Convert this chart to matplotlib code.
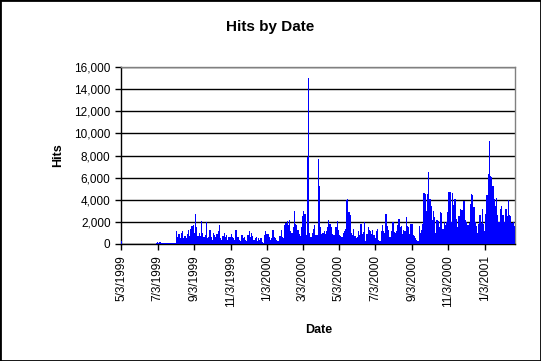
import datetime as dt
import numpy as np
import matplotlib
matplotlib.use("Agg")
import matplotlib.pyplot as plt
import matplotlib.dates as mdates
from matplotlib.patches import Rectangle
from matplotlib.ticker import FuncFormatter, MultipleLocator

plt.rcParams['font.family'] = ['Liberation Sans', 'DejaVu Sans']

# daily hits in 2-day steps (values in hundreds of hits)
start_date = dt.date(1999, 5, 3)
step_days = 2
hits_hundreds = [
    # May - Aug 1999
    2.5, 0, 0, 0, 0, 0, 0, 0, 0, 0, 0, 0, 0, 0, 0, 0, 0, 0, 0, 0,
    0, 0, 0, 0, 0, 0, 0, 0, 0, 1, 2, 1, 2, 1, 1, 1, 1, 1, 1, 1,
    1, 1, 1, 1, 1, 1,
    # Aug - Dec 1999
    12, 6, 9, 5, 10, 12, 5, 7, 5, 9, 13, 7, 14, 16, 17, 10, 27, 15, 7, 10,
    7, 21, 10, 6, 8, 20, 5, 6, 13, 6, 4, 10, 8, 6, 9, 12, 17, 5, 4, 7,
    10, 6, 8, 4, 6, 6, 9, 6, 5, 4, 13, 6, 6, 4, 3, 8, 5, 6, 4, 3,
    8, 12, 6, 10, 7, 4, 5, 6, 3, 5, 4,
    # Jan - Mar 2000
    5, 1.5, 1, 8, 12, 9, 9, 6, 4, 5, 12.5, 6, 5, 4, 3, 3, 7, 13, 6, 5,
    17, 19, 21, 17, 22, 12, 10, 15, 30, 18, 17, 13, 9, 7, 15, 25, 30,
    27, 8, 79, 150, 10, 6, 10,
    # Mar - May 2000
    14, 17, 8, 8, 77, 52, 15, 9, 10, 12, 9, 12, 15, 22, 18, 15, 9, 8, 8, 15,
    21, 13, 8, 7, 6, 10, 12, 14, 40, 41, 29, 26,
    # May - Sep 2000
    10, 8, 13.5, 7, 5, 6, 12, 8, 18, 9, 11, 19.5, 3, 9, 15, 13, 12, 9, 13, 8,
    5, 12, 13.5, 4, 3, 12, 17.5, 12, 10, 27, 16, 13, 6, 6, 12, 19.5, 11, 10, 12, 17,
    23, 15, 16, 9, 13, 12, 24.5, 16, 15, 9, 18, 18, 8, 7, 5, 4, 3, 16.5, 10, 13,
    18,
    # Sep 2000 - Feb 2001
    46.5, 45, 30, 45, 65, 41, 34.5, 21.5, 30, 24.5, 10, 22, 21, 15, 29, 28, 14, 20, 17, 20,
    29, 47, 47, 20, 46, 35, 41, 23, 15, 25, 25, 32, 31, 39, 39, 22, 20, 17, 19, 36,
    45, 44, 33, 19.5, 16, 9.5, 18, 26, 19, 32, 18, 12, 27.5, 44, 63, 93, 61.5, 61, 52, 41,
    34.5, 41.5, 26, 20, 32, 34, 26, 26, 20, 32, 25, 39.5, 26, 25, 19, 20, 16.5,
]
hits = np.array(hits_hundreds) * 100
dates = [start_date + dt.timedelta(days=step_days * i) for i in range(len(hits))]

fig = plt.figure(figsize=(5.41, 3.61), dpi=100)
ax = fig.add_axes([121 / 541, 1 - 244 / 361, 394 / 541, 177 / 361])

ax.bar(dates, hits, width=step_days, align='edge', color='#0000ff',
       linewidth=0, antialiased=False, zorder=3)

ax.set_xlim(mdates.date2num(start_date) - 0.5, mdates.date2num(start_date) + 662)
ax.set_ylim(0, 16000)
ax.yaxis.set_major_locator(MultipleLocator(2000))
ax.yaxis.set_major_formatter(FuncFormatter(lambda v, p: f"{int(v):,}"))
ax.grid(axis='y', color='black', linewidth=1, zorder=1)
ax.set_axisbelow(True)

ax.xaxis.set_major_locator(mdates.MonthLocator(bymonth=[1, 3, 5, 7, 9, 11], bymonthday=3))
ax.xaxis.set_major_formatter(FuncFormatter(
    lambda v, p: (lambda d: f"{d.month}/{d.day}/{d.year}")(mdates.num2date(v))))
ax.tick_params(axis='x', rotation=90, labelsize=8.5, length=4, width=1, pad=4)
ax.tick_params(axis='y', labelsize=8.5, length=4.5, width=1, pad=3)

ax.spines['left'].set_color('black')
ax.spines['bottom'].set_color('black')
ax.spines['top'].set_color('#808080')
ax.spines['right'].set_color('#808080')
for s in ax.spines.values():
    s.set_linewidth(1)

fig.text(0.5, 1 - 27 / 361, "Hits by Date", ha='center', va='center',
         fontsize=11, fontweight='bold')
fig.text(58 / 541, 1 - 155 / 361, "Hits", ha='center', va='center',
         rotation=90, fontsize=9, fontweight='bold')
fig.text(319 / 541, 1 - 330 / 361, "Date", ha='center', va='center',
         fontsize=9, fontweight='bold')

fig.add_artist(Rectangle((0, 0), 1, 1, transform=fig.transFigure, fill=False,
                         edgecolor='black', linewidth=2))

fig.savefig("out.png", dpi=100, facecolor='white')
